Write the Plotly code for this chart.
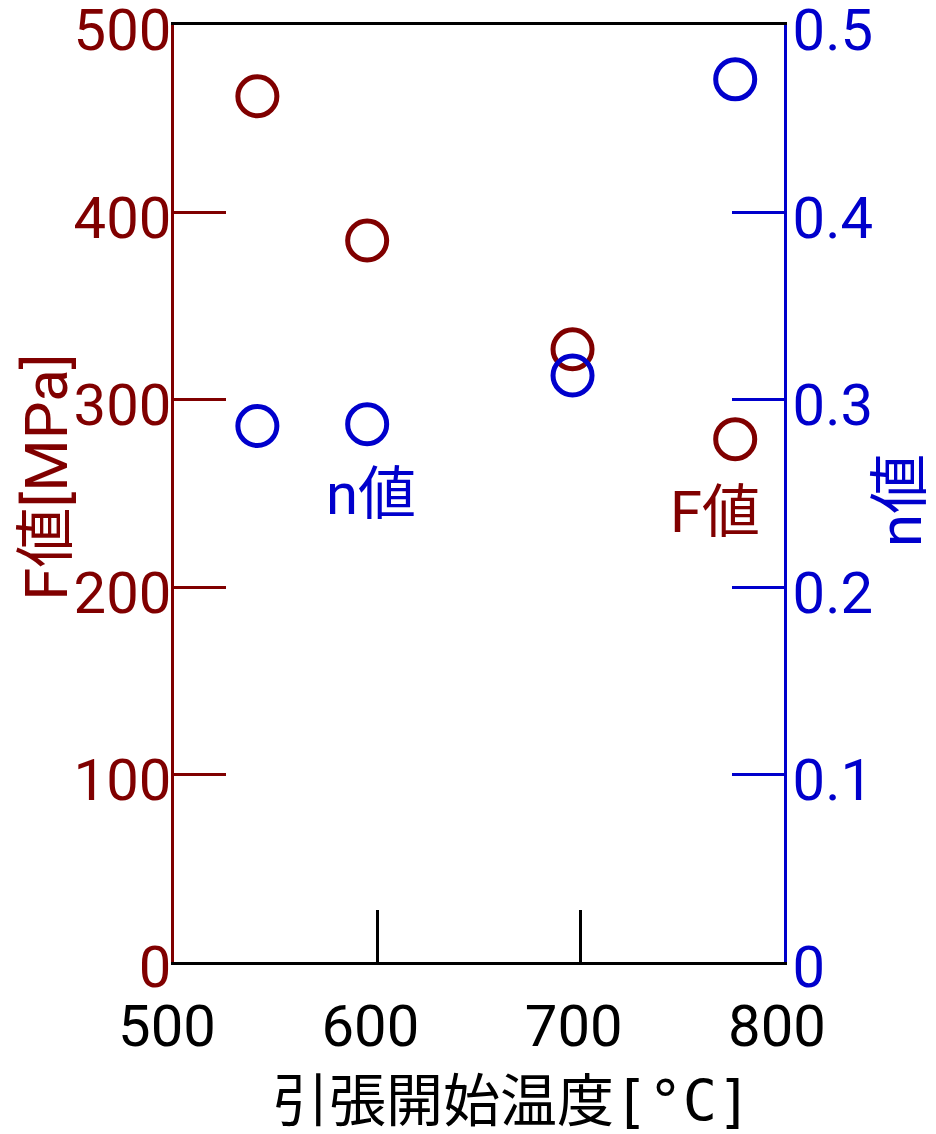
import plotly.graph_objects as go

# data
temps_F = [541, 595, 696, 776]
F_values = [462, 385, 327, 279]
temps_n = [541, 595, 696, 776]
n_values = [0.286, 0.287, 0.313, 0.471]

x_ticks = [500, 600, 700, 800]
y1_ticks = [0, 100, 200, 300, 400, 500]
y2_ticks = [0, 0.1, 0.2, 0.3, 0.4, 0.5]
y2_labels = ["0", "0.1", "0.2", "0.3", "0.4", "0.5"]

RED = "#800000"
BLUE = "#0000CC"
FONT = "Roboto, 'Noto Sans CJK JP'"
FS = 58
TFS = 60

fig = go.Figure()
fig.add_trace(go.Scatter(
    x=temps_F, y=F_values, mode="markers", name="F値",
    marker=dict(symbol="circle-open", size=39, color=RED, line=dict(width=5, color=RED)),
    yaxis="y", showlegend=False))
fig.add_trace(go.Scatter(
    x=temps_n, y=n_values, mode="markers", name="n値",
    marker=dict(symbol="circle-open", size=39, color=BLUE, line=dict(width=5, color=BLUE)),
    yaxis="y2", showlegend=False))

xtitle = ("引張開始温度<span style=\"font-family:'DejaVu Sans Mono'\">[°C]</span>")

fig.update_layout(
    width=928, height=1126,
    margin=dict(l=166, r=152, t=17, b=172),
    plot_bgcolor="white", paper_bgcolor="white",
    font=dict(family=FONT, size=FS, color="black"),
    xaxis=dict(
        range=[500, 800], tickvals=x_ticks, ticktext=[str(v) for v in x_ticks],
        ticks="", showgrid=False, zeroline=False, automargin=False,
        showline=True, linecolor="black", linewidth=3, mirror=True,
        tickfont=dict(size=FS, color="black"), ticklabelstandoff=11,
        ticklabelshift=-7, ticklabeloverflow="allow",
        minor=dict(tickvals=[600, 700], ticks="inside", ticklen=52, tickwidth=3, tickcolor="black"),
    ),
    yaxis=dict(
        range=[0, 500], tickvals=y1_ticks, ticktext=[str(v) for v in y1_ticks],
        ticks="", showgrid=False, zeroline=False, automargin=False,
        showline=True, linecolor=RED, linewidth=3,
        tickfont=dict(size=FS, color=RED), ticklabeloverflow="allow",
        ticklabelstandoff=-12, ticklabelshift=5,
        minor=dict(tickvals=[100, 200, 300, 400], ticks="inside", ticklen=52, tickwidth=3, tickcolor=RED),
    ),
    yaxis2=dict(
        range=[0, 0.5], overlaying="y", side="right", anchor="x",
        tickvals=y2_ticks, ticktext=y2_labels, automargin=False,
        ticks="", showgrid=False, zeroline=False,
        showline=True, linecolor=BLUE, linewidth=3,
        tickfont=dict(size=FS, color=BLUE), ticklabelstandoff=-6, ticklabelshift=5,
        ticklabeloverflow="allow",
        minor=dict(tickvals=[0.1, 0.2, 0.3, 0.4], ticks="inside", ticklen=52, tickwidth=3, tickcolor=BLUE),
    ),
    annotations=[
        dict(text=xtitle, x=0.553, y=-0.1494, xref="paper", yref="paper",
             xanchor="center", yanchor="middle", showarrow=False,
             font=dict(size=57, color="black", family=FONT)),
        dict(text="F値[MPa]", x=-0.208, y=0.518, xref="paper", yref="paper", textangle=-90,
             xanchor="center", yanchor="middle", showarrow=False,
             font=dict(size=TFS, color=RED, family=FONT)),
        dict(text="n値", x=1.19, y=0.493, xref="paper", yref="paper", textangle=-90,
             xanchor="center", yanchor="middle", showarrow=False,
             font=dict(size=TFS, color=BLUE, family=FONT)),
        dict(text="n値", x=597, y=250, xref="x", yref="y", showarrow=False,
             font=dict(size=FS, color=BLUE, family=FONT)),
        dict(text="F値", x=766, y=240, xref="x", yref="y", showarrow=False,
             font=dict(size=FS, color=RED, family=FONT)),
    ],
)

fig.write_html("out.html")
